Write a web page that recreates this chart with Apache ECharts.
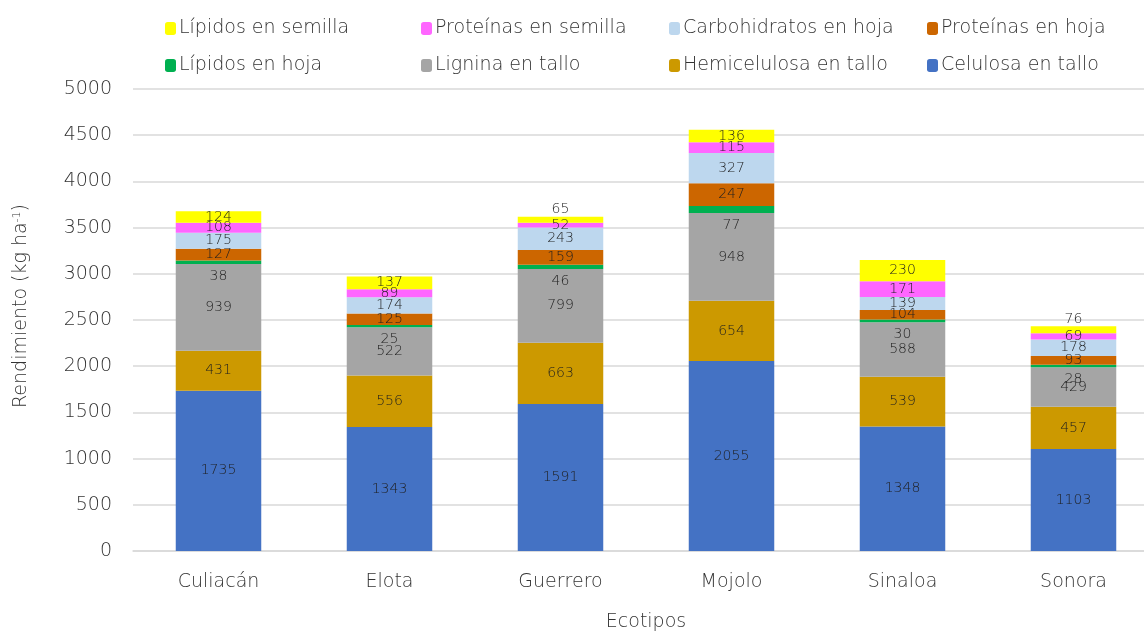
<!DOCTYPE html>
<html>
<head>
<meta charset="utf-8">
<script src="https://cdn.jsdelivr.net/npm/echarts@6/dist/echarts.min.js"></script>
<style>html,body{margin:0;padding:0;background:#fff}#c{width:1144px;height:632px}</style>
</head>
<body>
<div id="c"></div>
<script>
const categories = ['Culiacán', 'Elota', 'Guerrero', 'Mojolo', 'Sinaloa', 'Sonora'];
const celulosaTallo = [1735, 1343, 1591, 2055, 1348, 1103];
const hemicelulosaTallo = [431, 556, 663, 654, 539, 457];
const ligninaTallo = [939, 522, 799, 948, 588, 429];
const lipidosHoja = [38, 25, 46, 77, 30, 28];
const proteinasHoja = [127, 125, 159, 247, 104, 93];
const carbohidratosHoja = [175, 174, 243, 327, 139, 178];
const proteinasSemilla = [108, 89, 52, 115, 171, 69];
const lipidosSemilla = [124, 137, 65, 136, 230, 76];
const yTicks = [0, 500, 1000, 1500, 2000, 2500, 3000, 3500, 4000, 4500, 5000];

const FONT = '"DejaVu Sans ExtraLight", "DejaVu Sans"';
const FW = 200;
const TXT = '#333333';
const seriesDefs = [
  {name: 'Celulosa en tallo', data: celulosaTallo, color: '#4472C4'},
  {name: 'Hemicelulosa en tallo', data: hemicelulosaTallo, color: '#CC9900'},
  {name: 'Lignina en tallo', data: ligninaTallo, color: '#A5A5A5'},
  {name: 'Lípidos en hoja', data: lipidosHoja, color: '#00B050'},
  {name: 'Proteínas en hoja', data: proteinasHoja, color: '#CC6600'},
  {name: 'Carbohidratos en hoja', data: carbohidratosHoja, color: '#BDD7EE'},
  {name: 'Proteínas en semilla', data: proteinasSemilla, color: '#FF66FF'},
  {name: 'Lípidos en semilla', data: lipidosSemilla, color: '#FFFF00'}
];

const series = seriesDefs.map((s) => {
  let data = s.data.slice();
  let label = {show: true, position: 'inside', color: '#1f1f1f', fontFamily: FONT, fontWeight: FW, fontSize: 14};
  if (s.name === 'Lípidos en hoja') {
    label = Object.assign({}, label, {position: 'bottom', distance: 5});
  }
  if (s.name === 'Lípidos en semilla') {
    data = data.map((v, i) => (i === 2 || i === 5) ? {value: v, label: {position: 'top', distance: 0}} : v);
  }
  return {
    name: s.name, type: 'bar', stack: 'total', barWidth: '50%',
    itemStyle: {color: s.color},
    label: label,
    emphasis: {disabled: true},
    data: data
  };
});

const legendLayout = [
  ['Lípidos en semilla', 160, 14], ['Proteínas en semilla', 416, 14], ['Carbohidratos en hoja', 664, 14], ['Proteínas en hoja', 922, 14],
  ['Lípidos en hoja', 160, 51], ['Lignina en tallo', 416, 51], ['Hemicelulosa en tallo', 664, 51], ['Celulosa en tallo', 922, 51]
];
const legends = legendLayout.map(l => ({
  data: [l[0]], left: l[1], top: l[2], itemWidth: 11, itemHeight: 13, itemGap: 4,
  textStyle: {fontFamily: FONT, fontWeight: FW, fontSize: 19, color: TXT, padding: [0, 0, 0, -2]}, selectedMode: false
}));

const chart = echarts.init(document.getElementById('c'));
chart.setOption({
  animation: false,
  backgroundColor: '#fff',
  legend: legends,
  grid: {left: 133, width: 1026, top: 89, bottom: 81, containLabel: false, outerBoundsMode: 'none'},
  xAxis: {
    type: 'category', data: categories,
    name: 'Ecotipos', nameLocation: 'middle', nameGap: 62,
    nameTextStyle: {fontFamily: FONT, fontWeight: FW, fontSize: 19, color: TXT},
    axisLine: {lineStyle: {color: '#D9D9D9', width: 1.5}},
    axisTick: {show: false},
    axisLabel: {fontFamily: FONT, fontWeight: FW, fontSize: 19, color: TXT, margin: 22}
  },
  yAxis: {
    type: 'value', min: yTicks[0], max: yTicks[yTicks.length - 1], interval: 500,
    name: 'Rendimiento (kg ha{sup|-1})', nameLocation: 'middle', nameGap: 102, nameRotate: 90,
    nameTextStyle: {fontFamily: FONT, fontWeight: FW, fontSize: 19, color: TXT, padding: [0, 0, 0, 28],
      rich: {sup: {fontFamily: FONT, fontWeight: FW, fontSize: 11, color: TXT, verticalAlign: 'top', lineHeight: 10, padding: [0, 0, 8, 0]}}},
    axisLine: {show: false}, axisTick: {show: false},
    splitLine: {lineStyle: {color: '#D9D9D9', width: 1.5}},
    axisLabel: {fontFamily: FONT, fontWeight: FW, fontSize: 19, color: TXT, margin: 21, formatter: v => String(v)}
  },
  series: series
});
</script>
</body>
</html>
